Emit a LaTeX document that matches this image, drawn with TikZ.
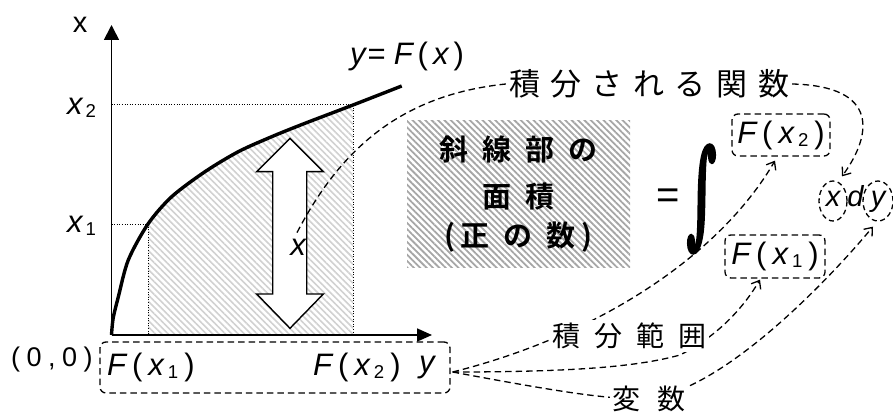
\documentclass[tikz,border=0pt]{standalone}
\usepackage{fontspec}
\usepackage{graphicx}
\setmainfont{Liberation Sans}
\newfontfamily\jpfont{Noto Sans CJK JP}
\newfontfamily\jpbold{Noto Sans CJK JP Bold}
\newfontfamily\intfont[FakeBold=3]{DejaVu Serif Bold}
\usetikzlibrary{arrows.meta,patterns.meta,shapes.geometric,calc}
\pgfdeclarelayer{bg}
\pgfsetlayers{bg,main}
\makeatletter
\def\spreadtxt#1#2{\def\spr@gap{\hspace{#1}}\spr@a#2\@nil}
\def\spr@a#1#2\@nil{#1\ifx\relax#2\relax\else\spr@gap\spr@a#2\@nil\fi}
\makeatother
\newcommand\gp[1]{\hspace{#1pt}}
\newcommand\sbx[1]{\raisebox{-3pt}{\upshape\scalebox{0.6}{#1}}}
\tikzset{
  conn/.style={line width=1.3pt, dash pattern=on 6.5pt off 4pt},
  tip/.style={-{Straight Barb[length=7pt,width=11pt]}},
  dbox/.style={draw, line width=1.3pt, dash pattern=on 6.5pt off 4pt, rounded corners=6pt, inner sep=0pt},
  dell/.style={draw, ellipse, line width=1.3pt, dash pattern=on 5pt off 3.5pt, inner sep=0pt, text height=16pt, text depth=6pt},
  lab/.style={fill=white, inner sep=3pt},
  guide/.style={line width=1pt, dash pattern=on 1pt off 1.6pt},
  mt/.style={font=\fontsize{31}{31}\selectfont, inner sep=0pt},
  hbox/.style={minimum width=223pt, minimum height=147pt, inner sep=0pt,
    pattern={Lines[angle=-45,distance=4.5pt,line width=1.8pt]}, pattern color=black!35, align=center},
}
\begin{document}
\begin{tikzpicture}[x=1pt,y=-1pt]
\useasboundingbox (0,0) rectangle (893,414);
% axes
\coordinate (O) at (111.5,335);
\coordinate (Ytop) at (111.5,25);
\coordinate (Xend) at (432,335);
\draw[line width=1.7pt,-{Triangle[length=15pt,width=15pt]}] (O) -- (Ytop);
\draw[line width=1.7pt,-{Triangle[length=15pt,width=13pt]}] (O) -- (Xend);
% guides
\draw[guide] (111.5,105) -- (353,105) -- (353,335);
\draw[guide] (111.5,224) -- (148,224) -- (148,335);
% hatched area and double arrow (background)
\begin{pgfonlayer}{bg}
\begin{scope}
\clip (111.5,335) -- plot[smooth] coordinates {(111.5,335) (113.2,318) (118.3,297) (128.3,260) (148,224) (171.7,196.7) (205,171.7) (238.3,151.7) (271.7,136.7) (305,123.3) (353,105) (401.7,86)} -- (401.7,335) -- cycle;
\fill[pattern={Lines[angle=-45,distance=4.5pt,line width=1.6pt]}, pattern color=black!18] (148,80) rectangle (353,335);
\end{scope}
\draw[line width=1.4pt, fill=white] (290,138.3) -- (323.3,171.7) -- (306.7,171.7) -- (306.7,294) -- (323.3,294) -- (290,328.3) -- (256.7,294) -- (272.7,294) -- (272.7,171.7) -- (256.7,171.7) -- cycle;
\end{pgfonlayer}
% main curve
\draw[line width=3.4pt] plot[smooth] coordinates {(111.5,335) (113.2,318) (118.3,297) (128.3,260) (148,224) (171.7,196.7) (205,171.7) (238.3,151.7) (271.7,136.7) (305,123.3) (353,105) (401.7,86)};
% axis labels
\node[inner sep=0pt, font=\fontsize{29}{29}\selectfont] (xax) at (80,25) {x};
\node[mt, anchor=base west] (lx2) at (67,115) {\itshape x\gp{3}\sbx{2}};
\node[mt, anchor=base west] (lx1) at (67,232) {\itshape x\gp{3}\sbx{1}};
\node[mt, anchor=base west] (eq) at (350,65) {\itshape y\gp{2}\upshape=\gp{8}\itshape F\gp{5}\upshape(\gp{5}\itshape x\gp{5}\upshape)};
\node[mt] (xl) at (298,247) {\itshape x};
% y box
\node[dbox, minimum width=350pt, minimum height=51pt] (yb) at (275,367.5) {};
\node[inner sep=0pt, anchor=base west, font=\fontsize{27}{27}\selectfont] (org) at (11,366) {(\gp{6.5}0\gp{6.5},\gp{6.5}0\gp{6.5})};
\node[mt, anchor=base west] (fa) at (107,375) {\itshape F\gp{6}\upshape(\gp{6}\itshape x\gp{4}\sbx{1}\gp{6}\upshape)};
\node[mt, anchor=base west] (fb) at (313,375) {\itshape F\gp{6}\upshape(\gp{6}\itshape x\gp{4}\sbx{2}\gp{6}\upshape)};
\node[mt, anchor=base west] (yl) at (419,372) {\itshape y};
% hatched box
\node[hbox, font=\jpbold\fontsize{29}{47}\selectfont] (hb) at (518.5,194) {\spreadtxt{14pt}{斜線部の}\\ \spreadtxt{14pt}{面積}\\[-8pt] (\gp{6}正\gp{14}の\gp{14}数\gp{6})};
% equation
\node[inner sep=0pt, font=\fontsize{40}{40}\selectfont] (eqs) at (668,199) {=};
\node[inner sep=0pt] (int) at (701.5,199) {\resizebox*{30pt}{108pt}{\intfont ∫}};
\node[dbox, mt, minimum width=98pt, minimum height=42pt] (F2) at (781,135) {\itshape F\gp{6}\upshape(\gp{6}\itshape x\gp{4}\sbx{2}\gp{6}\upshape)};
\node[dbox, mt, minimum width=100pt, minimum height=43pt] (F1) at (775,256.5) {\itshape F\gp{6}\upshape(\gp{6}\itshape x\gp{4}\sbx{1}\gp{6}\upshape)};
\node[dell, font=\fontsize{29}{29}\selectfont, minimum width=28pt, minimum height=40pt] (cx) at (833,201) {\itshape x};
\node[inner sep=0pt, anchor=base, font=\fontsize{29}{29}\selectfont] (dd) at (855.5,206) {\itshape d};
\node[dell, font=\fontsize{29}{29}\selectfont, minimum width=30pt, minimum height=40pt] (cy) at (878,201) {\itshape y};
% labels
\node[lab, font=\jpfont\fontsize{31}{31}\selectfont] (lab1) at (649,84) {\spreadtxt{10.5pt}{積分される関数}};
\node[lab, font=\jpfont\fontsize{28}{28}\selectfont] (lab2) at (629,336) {\spreadtxt{14pt}{積分範囲}};
\node[lab, font=\jpfont\fontsize{28}{28}\selectfont] (lab3) at (649,399) {\spreadtxt{17pt}{変数}};
% connectors
\begin{pgfonlayer}{bg}
\coordinate (P0) at ($(yb.east)+(2,4.5)$);
\draw[conn] ($(xl.north)+(-1,-6)$) .. controls (340,150) and (400,95) .. (lab1.west);
\draw[conn,tip] (lab1.east) .. controls (880,86) and (872,135) .. ($(cx.north)+(9,-4)$);
\draw[conn,tip] (P0) .. controls (600,335) and (720,255) .. ($(F2.south)+(-6,4)$);
\draw[conn,tip] (P0) .. controls (580,372) and (640,366) .. (680,355) .. controls (720,335) and (745,305) .. ($(F1.south)+(-15,1)$);
\draw[conn,tip] (P0) .. controls (560,392) and (615,401) .. (650,398) .. controls (720,390) and (820,290) .. ($(cy.south)+(-5,5)$);
\end{pgfonlayer}
\end{tikzpicture}
\end{document}
